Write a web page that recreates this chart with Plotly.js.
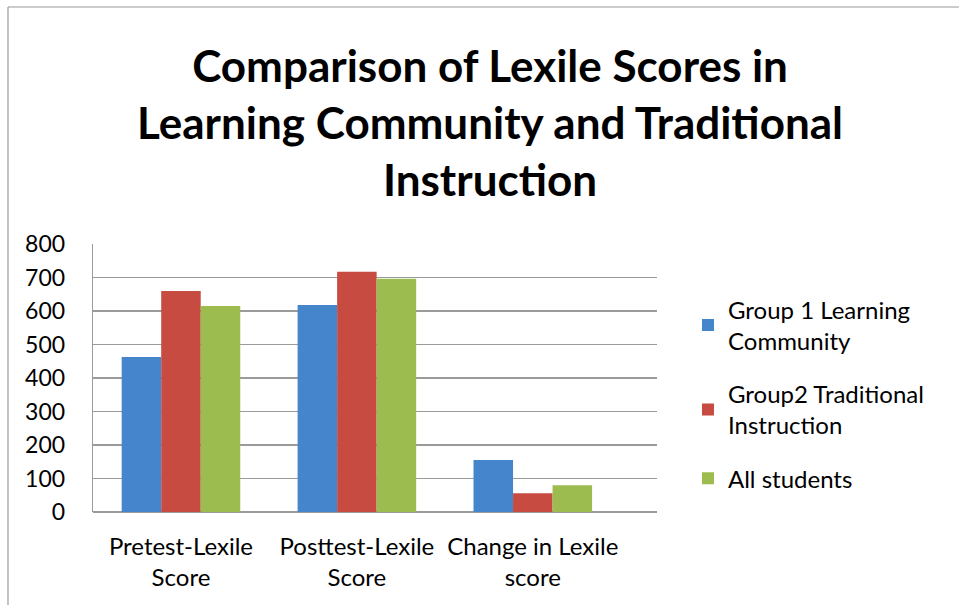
<!DOCTYPE html>
<html>
<head>
<meta charset="utf-8">
<script src="https://cdn.plot.ly/plotly-3.0.1.min.js"></script>
<style>html,body{margin:0;padding:0;background:#fff;}#chart{width:959px;height:605px;}</style>
</head>
<body>
<div id="chart"></div>
<script>
const categories = ["Pretest-Lexile<br>Score", "Posttest-Lexile<br>Score", "Change in Lexile<br>score"];
const seriesNames = ["Group 1 Learning<br>Community", "Group2 Traditional<br>Instruction", "All students"];
const group1 = [463, 618, 155];
const group2 = [660, 717, 56];
const allStudents = [615, 696, 80];
const yTicks = [0, 100, 200, 300, 400, 500, 600, 700, 800];

const colors = ["#4485cb", "#c84b41", "#9dbc50"];
const values = [group1, group2, allStudents];

const FONT = "Lato, 'Open Sans', sans-serif";

const traces = values.map((v, i) => ({
  type: "bar",
  x: categories,
  y: v,
  name: seriesNames[i],
  legendgroup: "g" + i,
  marker: {color: colors[i], line: {width: 0}},
  hoverinfo: "y+name"
}));

// plot area in pixels: x 93..657, y 244..512
const PL = 93, PR = 657, PT = 244, PB = 512;
const px = x => (x - PL) / (PR - PL);
const py = y => (PB - y) / (PB - PT);

const layout = {
  width: 959,
  height: 605,
  paper_bgcolor: "#ffffff",
  plot_bgcolor: "#ffffff",
  margin: {l: PL, r: 959 - PR, t: PT, b: 605 - PB, pad: 0},
  font: {family: FONT, color: "#000000", size: 24},
  title: {
    text: "<b>Comparison of Lexile Scores in<br>Learning Community and Traditional<br>Instruction</b>",
    font: {family: FONT, size: 44, color: "#000000"},
    x: 0.511, xref: "container", xanchor: "center",
    y: 0.865, yref: "container", yanchor: "middle"
  },
  barmode: "group",
  bargap: 0.326,
  bargroupgap: 0,
  xaxis: {
    type: "category",
    range: [-0.5, 2.706],
    showgrid: false,
    showline: false,
    zeroline: false,
    ticks: "",
    tickfont: {family: FONT, size: 24, color: "#000"},
    ticklabelstandoff: 18,
    fixedrange: true
  },
  yaxis: {
    range: [0, 800],
    tickvals: yTicks,
    ticktext: yTicks.map(String),
    showgrid: true,
    gridcolor: "#9a9a9a",
    gridwidth: 1.8,
    zeroline: true,
    zerolinecolor: "#9a9a9a",
    zerolinewidth: 1.8,
    showline: true,
    linecolor: "#9a9a9a",
    linewidth: 1.3,
    ticks: "",
    tickfont: {family: FONT, size: 23, color: "#000"},
    ticklabelstandoff: 22,
    fixedrange: true
  },
  legend: {
    x: 0.7174, xref: "container", xanchor: "left",
    y: 0.525, yref: "container", yanchor: "top",
    font: {family: FONT, size: 24, color: "#000"},
    tracegroupgap: 19,
    bgcolor: "rgba(0,0,0,0)",
    itemwidth: 30
  },
  shapes: [
    {type: "line", xref: "paper", yref: "paper", x0: px(8), x1: px(8), y0: py(605), y1: py(7), line: {color: "#9a9a9a", width: 1.2}},
    {type: "line", xref: "paper", yref: "paper", x0: px(8), x1: px(959), y0: py(7), y1: py(7), line: {color: "#9a9a9a", width: 1.2}}
  ],
  showlegend: true
};

Plotly.newPlot("chart", traces, layout, {displayModeBar: false, responsive: false, staticPlot: true});
</script>
</body>
</html>
